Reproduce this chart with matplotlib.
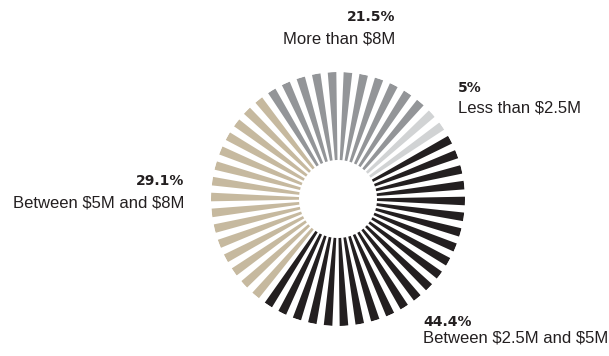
import numpy as np
import matplotlib
matplotlib.use("Agg")
import matplotlib.pyplot as plt

# Share of projects by budget bracket (percent)
categories = ["Less than \\$2.5M", "Between \\$2.5M and \\$5M", "Between \\$5M and \\$8M", "More than \\$8M"]
shares = [5.0, 44.4, 29.1, 21.5]
pct_labels = ["5%", "44.4%", "29.1%", "21.5%"]
colors = ["#d1d3d4", "#231f20", "#c6b99f", "#939598"]

W, H = 609, 356
cx, cy = 338, 199          # centre of the ring, pixels from top-left
r_out, r_in = 127, 39

n_spokes = 50
step = 360 / n_spokes
start = 42.0               # where the first slice begins, degrees clockwise from 12 o'clock
spoke_offset = 4.5

fig = plt.figure(figsize=(W / 100, H / 100), dpi=100)
ax = fig.add_axes([(cx - r_out) / W, (H - cy - r_out) / H, 2 * r_out / W, 2 * r_out / H],
                  projection="polar")
ax.set_theta_zero_location("N")
ax.set_theta_direction(-1)

bounds = np.cumsum([0] + shares)
theta = spoke_offset + step * np.arange(n_spokes)
pos = ((theta - start) % 360) / 360 * 100
idx = np.searchsorted(bounds, pos, side="right") - 1
idx = np.clip(idx, 0, len(shares) - 1)
spoke_colors = [colors[i] for i in idx]

ax.bar(np.deg2rad(theta), r_out - r_in, width=np.deg2rad(step * 0.54), bottom=r_in,
       color=spoke_colors, linewidth=0)
ax.set_ylim(0, r_out)
ax.set_axis_off()

label_font = ["Liberation Sans", "DejaVu Sans"]

def put(x, y_pct, y_name, pct, name, ha):
    fig.text(x / W, 1 - y_pct / H, pct, ha=ha, va="center", fontsize=10,
             fontweight="bold", color="#231f20", family="DejaVu Sans")
    fig.text(x / W, 1 - y_name / H, name, ha=ha, va="center", fontsize=12,
             color="#231f20", family=label_font)

put(395, 17, 39, pct_labels[3], categories[3], "right")
put(458, 88, 108, pct_labels[0], categories[0], "left")
put(184, 181, 203, pct_labels[2], categories[2], "right")
put(423, 322, 338, pct_labels[1], categories[1], "left")

fig.savefig("out.png", dpi=100)
